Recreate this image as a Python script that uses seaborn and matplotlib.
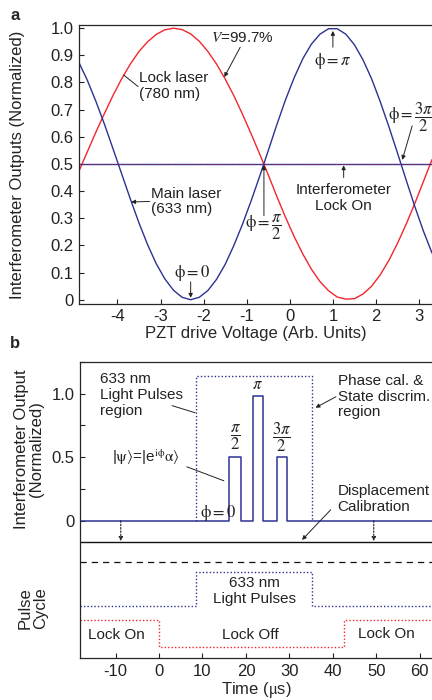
import matplotlib
matplotlib.use("Agg")
import matplotlib.pyplot as plt
import numpy as np
import pandas as pd
import seaborn as sns

# ── Panel a: PZT scan of the interferometer outputs ────
pzt_voltage = np.round(np.arange(-4.9, 3.31, 0.2), 1)
main_laser = [0.876, 0.809, 0.731, 0.646, 0.555, 0.463, 0.371, 0.283, 0.203, 0.133,
              0.077, 0.035, 0.009, 0.000, 0.009, 0.034, 0.075, 0.130, 0.199, 0.277,
              0.363, 0.454, 0.549, 0.645, 0.736, 0.817, 0.887, 0.941, 0.978, 0.998,
              0.998, 0.978, 0.939, 0.883, 0.813, 0.729, 0.637, 0.540, 0.441, 0.344,
              0.253, 0.172]
lock_laser = [0.471, 0.544, 0.617, 0.686, 0.753, 0.814, 0.868, 0.914, 0.950, 0.977,
              0.994, 1.000, 0.995, 0.979, 0.952, 0.914, 0.868, 0.813, 0.752, 0.684,
              0.612, 0.537, 0.460, 0.380, 0.304, 0.233, 0.169, 0.113, 0.067, 0.033,
              0.010, 0.002, 0.004, 0.021, 0.050, 0.092, 0.145, 0.208, 0.278, 0.354,
              0.435, 0.516]
lock_on_level = 0.5
pzt_ticks = [-4, -3, -2, -1, 0, 1, 2, 3]
out_ticks = [0, 0.1, 0.2, 0.3, 0.4, 0.5, 0.6, 0.7, 0.8, 0.9, 1.0]
out_ticklabels = ["0", "0.1", "0.2", "0.3", "0.4", "0.5", "0.6", "0.7", "0.8", "0.9", "1.0"]

# ── Panel b: time trace and pulse cycle ──────────────────────────────────────
pulse_start = [16.2, 21.6, 27.1]
pulse_end = [18.8, 23.9, 29.4]
pulse_height = [0.50, 0.98, 0.50]
pulse_labels = [r"$\dfrac{\pi}{2}$", r"$\pi$", r"$\dfrac{3\pi}{2}$"]
light_window = [8.6, 35.3]      # 633 nm light pulses on (us)
lock_off_window = [0.0, 42.5]   # interferometer lock off (us)
region_top = 1.14
calib_level = -0.17
separator_level = -0.32
light_cycle_levels = [-0.67, -0.40]   # off, on
lock_cycle_levels = [-0.99, -0.78]    # off, on
calib_marks = [-8.8, 49.4]
time_ticks = [-10, 0, 10, 20, 30, 40, 50, 60]
b_ticks = [0, 0.25, 0.5, 0.75, 1.0, 1.25]
b_ticklabels = ["0", "", "0.5", "", "1.0", ""]

T_MIN, T_MAX = -18.2, 62.8
BLUE = "#2d3192"
RED = "#f2262c"

sns.set_theme(style="ticks")
plt.rcParams["font.family"] = ["Liberation Sans", "DejaVu Sans"]
plt.rcParams["axes.linewidth"] = 0.9

fig = plt.figure(figsize=(4.32, 7.0), dpi=100)
ax_a = fig.add_axes([0.183, 0.566, 0.817, 0.398])
ax_b = fig.add_axes([0.185, 0.060, 0.815, 0.423])

for ax in (ax_a, ax_b):
    ax.spines["right"].set_visible(False)
    ax.tick_params(direction="in", length=3.5, width=0.8, labelsize=12, pad=4,
                   colors="#222222")

ANN = dict(fontsize=11, color="#222222")
PHI = dict(fontsize=12, color="#222222", math_fontfamily="stix")
ARROW = dict(arrowstyle="-|>", color="#222222", lw=0.7, mutation_scale=6,
             shrinkA=0, shrinkB=0)
LINE = dict(arrowstyle="-", color="#222222", lw=0.7, shrinkA=0, shrinkB=0)

# ── Panel a ──────────────────────────────────────────────────────────────────
scan = pd.DataFrame({"V": pzt_voltage, "main": main_laser, "lock": lock_laser})
sns.lineplot(data=scan, x="V", y="lock", ax=ax_a, color=RED, lw=1.0)
sns.lineplot(data=scan, x="V", y="main", ax=ax_a, color=BLUE, lw=1.0)
ax_a.axhline(lock_on_level, color=BLUE, lw=1.0)
ax_a.axhline(lock_on_level, color=RED, lw=0.7, ls=(0, (1, 2)), alpha=0.8)

ax_a.set_xlim(-4.89, 3.3)
ax_a.set_ylim(-0.015, 1.011)
ax_a.set_xticks(pzt_ticks)
ax_a.set_xticklabels([str(t) for t in pzt_ticks])
ax_a.set_yticks(out_ticks)
ax_a.set_yticklabels(out_ticklabels)
ax_a.set_xlabel("PZT drive Voltage (Arb. Units)", fontsize=12, labelpad=1)
ax_a.set_ylabel("")

ax_a.text(-1.83, 0.963, r"$V$=99.7%", ha="left", va="center", math_fontfamily="stix", **ANN)
ax_a.annotate("", xy=(-1.52, 0.82), xytext=(-1.15, 0.93), arrowprops=ARROW)
ax_a.text(-3.51, 0.787, "Lock laser\n(780 nm)", ha="left", va="center",
          linespacing=1.15, **ANN)
ax_a.annotate("", xy=(-3.85, 0.827), xytext=(-3.52, 0.785), arrowprops=LINE)
ax_a.text(-3.23, 0.362, "Main laser\n(633 nm)", ha="left", va="center",
          linespacing=1.15, **ANN)
ax_a.annotate("", xy=(-3.68, 0.36), xytext=(-3.25, 0.362), arrowprops=ARROW)
ax_a.text(1.25, 0.375, "Interferometer\nLock On", ha="center", va="center",
          linespacing=1.15, **ANN)
ax_a.annotate("", xy=(1.25, 0.495), xytext=(1.25, 0.45), arrowprops=ARROW)

ax_a.text(1.0, 0.88, r"$\mathrm{\phi}=\pi$", ha="center", va="center", **PHI)
ax_a.annotate("", xy=(1.0, 0.99), xytext=(1.0, 0.93), arrowprops=ARROW)
ax_a.text(-2.27, 0.10, r"$\mathrm{\phi}=0$", ha="center", va="center", **PHI)
ax_a.annotate("", xy=(-2.3, 0.007), xytext=(-2.3, 0.066), arrowprops=ARROW)
ax_a.text(-0.6, 0.268, r"$\mathrm{\phi}=\dfrac{\pi}{2}$", ha="center", va="center", **PHI)
ax_a.annotate("", xy=(-0.6, 0.495), xytext=(-0.6, 0.31), arrowprops=ARROW)
ax_a.text(2.8, 0.673, r"$\mathrm{\phi}=\dfrac{3\pi}{2}$", ha="center", va="center", **PHI)
ax_a.annotate("", xy=(2.61, 0.515), xytext=(2.84, 0.64), arrowprops=ARROW)

# ── Panel b ──────────────────────────────────────────────────────────────────
trace_t, trace_v = [T_MIN], [0.0]
for s, e, h in zip(pulse_start, pulse_end, pulse_height):
    trace_t += [s, s, e, e]
    trace_v += [0.0, h, h, 0.0]
trace_t.append(T_MAX)
trace_v.append(0.0)


def step(window, levels):
    lo, hi = levels
    t0, t1 = window
    return [T_MIN, t0, t0, t1, t1, T_MAX], [lo, lo, hi, hi, lo, lo]


light_t, light_v = step(light_window, light_cycle_levels)
lock_t, lock_v = step(lock_off_window, lock_cycle_levels[::-1])
region_t = [light_window[0], light_window[0], light_window[1], light_window[1]]
region_v = [0.0, region_top, region_top, 0.0]

kw = dict(ax=ax_b, sort=False, estimator=None)
sns.lineplot(x=region_t, y=region_v, color=BLUE, lw=1.0, ls=(0, (1, 1.5)), **kw)
sns.lineplot(x=trace_t, y=trace_v, color=BLUE, lw=1.1, **kw)
ax_b.axhline(calib_level, color="#111111", lw=1.0)
ax_b.axhline(separator_level, color="#111111", lw=0.9, ls=(0, (5, 4)))
sns.lineplot(x=light_t, y=light_v, color=BLUE, lw=1.0, ls=(0, (1, 1.5)), **kw)
sns.lineplot(x=lock_t, y=lock_v, color=RED, lw=1.0, ls=(0, (1, 1.5)), **kw)

for t in calib_marks:
    ax_b.annotate("", xy=(t, calib_level + 0.01), xytext=(t, 0.0),
                  arrowprops=dict(arrowstyle="-|>", color="#222222", lw=0.8,
                                  ls=(0, (1.5, 1.5)), mutation_scale=6,
                                  shrinkA=0, shrinkB=0))

for s, e, h, lab in zip(pulse_start, pulse_end, pulse_height, pulse_labels):
    ax_b.text((s + e) / 2, h + (0.09 if h > 0.9 else 0.16), lab, ha="center",
              va="center", **PHI)

ax_b.text(9.4, 0.063, r"$\mathrm{\phi}=0$", ha="left", va="center", **PHI)
ax_b.text(-13.6, 0.99, "633 nm\nLight Pulses\nregion", ha="left", va="center",
          linespacing=1.15, **ANN)
ax_b.annotate("", xy=(light_window[0] - 0.3, 0.85), xytext=(3.0, 0.906), arrowprops=LINE)
ax_b.text(-10.8, 0.50, r"|$\mathrm{\psi}\rangle$=|e$^{\mathrm{i\phi}}\mathrm{\alpha}\rangle$",
          ha="left", va="center", math_fontfamily="stix", **ANN)
ax_b.annotate("", xy=(14.9, 0.315), xytext=(6.4, 0.425), arrowprops=LINE)
ax_b.text(41.1, 0.976, "Phase cal. &\nState discrim.\nregion", ha="left", va="center",
          linespacing=1.15, **ANN)
ax_b.annotate("", xy=(light_window[1] + 0.7, 0.89), xytext=(40.7, 0.976), arrowprops=ARROW)
ax_b.text(41.1, 0.173, "Displacement\nCalibration", ha="left", va="center",
          linespacing=1.15, **ANN)
ax_b.annotate("", xy=(32.9, calib_level + 0.02), xytext=(39.5, 0.087), arrowprops=ARROW)

ax_b.text(22.0, -0.55, "633 nm\nLight Pulses", ha="center", va="center",
          linespacing=1.15, **ANN)
ax_b.text(-9.7, -0.895, "Lock On", ha="center", va="center", **ANN)
ax_b.text(21.1, -0.895, "Lock Off", ha="center", va="center", **ANN)
ax_b.text(52.2, -0.89, "Lock On", ha="center", va="center", **ANN)

ax_b.set_xlim(T_MIN, T_MAX)
ax_b.set_ylim(-1.079, 1.25)
ax_b.set_xticks(time_ticks)
ax_b.set_xticklabels([str(t) for t in time_ticks])
ax_b.set_yticks(b_ticks)
ax_b.set_yticklabels(b_ticklabels)
ax_b.set_xlabel(r"Time ($\mathrm{\mu}$s)", fontsize=12, labelpad=1)
ax_b.xaxis.label.set_math_fontfamily("stix")
ax_b.set_ylabel("")

# ── Figure-level labels ──────────────────────────────────────────────────────
fig.text(15 / 432, 1 - 15 / 700, "a", fontsize=12, weight="bold", ha="center", va="center")
fig.text(15 / 432, 1 - 343 / 700, "b", fontsize=12, weight="bold", ha="center", va="center")
fig.text(18 / 432, 1 - 165 / 700, "Interferometer Outputs (Normalized)", rotation=90,
         fontsize=12, ha="center", va="center", color="#222222")
fig.text(29 / 432, 1 - 449 / 700, "Interferometer Output\n(Normalized)", rotation=90,
         fontsize=12, ha="center", va="center", linespacing=1.0, color="#222222")
fig.text(33 / 432, 1 - 608 / 700, "Pulse\nCycle", rotation=90, fontsize=12,
         ha="center", va="center", linespacing=1.0, color="#222222")

fig.savefig("out.png", dpi=100)
plt.close(fig)
